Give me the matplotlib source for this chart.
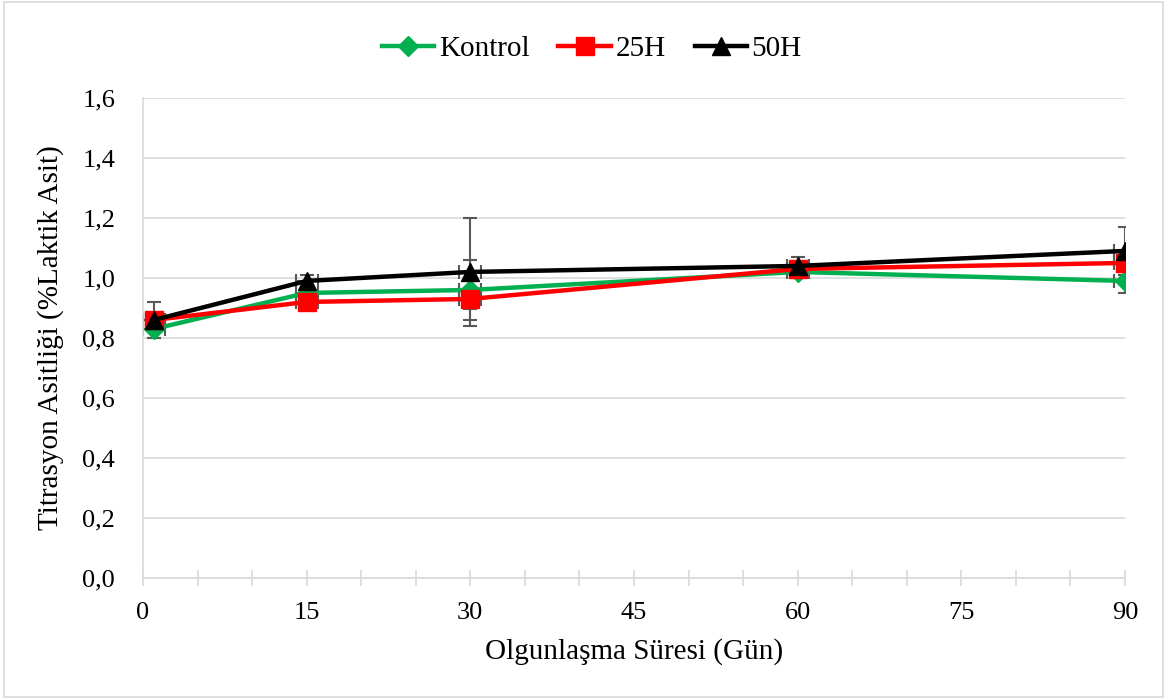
import matplotlib.pyplot as plt
from matplotlib.ticker import MultipleLocator, FuncFormatter
from matplotlib.patches import Rectangle

plt.rcParams['font.family'] = ['Liberation Serif', 'DejaVu Serif']

# Ripening days and titratable acidity values
days = [1, 15, 30, 60, 90]
kontrol = [0.83, 0.95, 0.96, 1.02, 0.99]
h25 = [0.86, 0.92, 0.93, 1.03, 1.05]
h50 = [0.86, 0.99, 1.02, 1.04, 1.09]

kontrol_err = [0.03, 0.02, 0.10, 0.02, 0.04]
h25_err = [0.02, 0.02, 0.035, 0.02, 0.02]
h50_err = [0.06, 0.02, 0.18, 0.03, 0.08]
day_err = [1, 1, 1, 1, 1]

x_ticks = [0, 15, 30, 45, 60, 75, 90]
y_ticks = [0.0, 0.2, 0.4, 0.6, 0.8, 1.0, 1.2, 1.4, 1.6]

fig = plt.figure(figsize=(11.67, 6.99), dpi=100)
ax = fig.add_axes([0.1225, 0.173, 0.8415, 0.687])

# light border around the whole chart, like an Excel chart area
fig.patches.append(Rectangle((0.003, 0.003), 0.994, 0.994, transform=fig.transFigure,
                             fill=False, edgecolor='#d9d9d9', linewidth=1.2))

series = [
    ("Kontrol", kontrol, kontrol_err, '#00b050', 'D', 10),
    ("25H", h25, h25_err, '#ff0000', 's', 12.5),
    ("50H", h50, h50_err, '#000000', '^', 13),
]

for name, vals, err, col, mk, ms in series:
    ax.errorbar(days, vals, yerr=err, xerr=day_err, fmt='none', ecolor='#595959',
                elinewidth=1.5, capsize=5, capthick=1.5, zorder=2)
    ax.plot(days, vals, color=col, linewidth=3.2, marker=mk, markersize=ms,
            label=name, zorder=3)

ax.set_xlim(0, 90)
ax.set_ylim(0, 1.6)
ax.set_xticks(x_ticks)
ax.xaxis.set_minor_locator(MultipleLocator(5))
ax.set_yticks(y_ticks)
ax.yaxis.set_major_formatter(FuncFormatter(lambda v, p: f"{v:.1f}".replace('.', ',')))

ax.grid(axis='y', color='#d9d9d9', linewidth=1.2, zorder=0)
ax.set_axisbelow(True)
for s in ['top', 'right']:
    ax.spines[s].set_visible(False)
ax.spines['left'].set_color('#d9d9d9')
ax.spines['bottom'].set_color('#d9d9d9')
ax.spines['left'].set_linewidth(1.2)
ax.spines['bottom'].set_linewidth(1.2)

ax.tick_params(axis='y', length=0, labelsize=19, pad=20)
ax.tick_params(axis='x', which='both', direction='inout', length=12, color='#d9d9d9',
               width=1.2, labelsize=19, pad=11)
ax.tick_params(axis='x', which='minor', length=12)

ax.set_xlabel("Olgunlaşma Süresi (Gün)", fontsize=21, labelpad=10)
ax.set_ylabel("Titrasyon Asitliği (%Laktik Asit)", fontsize=21, labelpad=13)

ax.legend(loc='lower center', bbox_to_anchor=(0.457, 1.02), ncol=3, frameon=False,
          fontsize=21, handlelength=1.8, columnspacing=1.0, handletextpad=0.15)

fig.savefig("out.png", dpi=100)
